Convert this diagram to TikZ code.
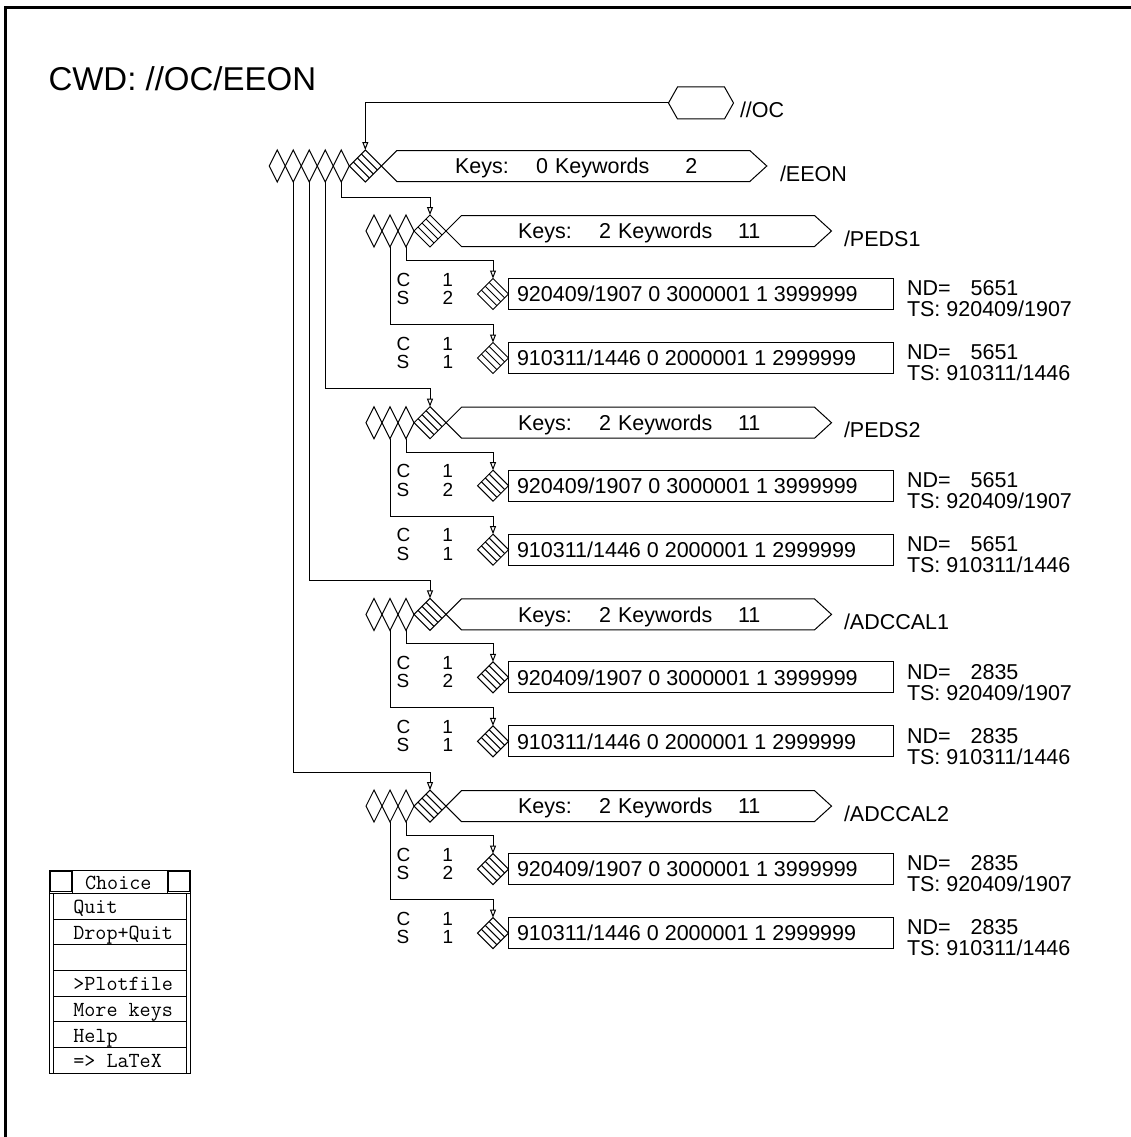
\documentclass[tikz,border=0pt]{standalone}
\usepackage{fontspec}
\setmainfont{Liberation Sans}
\usetikzlibrary{shapes.geometric,arrows.meta,calc}
\begin{document}
\begin{tikzpicture}[x=1pt,y=-1pt,line width=1pt,
  every node/.style={inner sep=0pt,outer sep=0pt},
  txt/.style={font=\fontsize{21.5}{24}\selectfont, anchor=base west},
  cs/.style={font=\fontsize{19}{18.5}\selectfont, anchor=west, align=left},
  big/.style={font=\fontsize{33}{38}\selectfont, anchor=base west},
  mono/.style={font=\ttfamily\fontsize{21.5}{24}\selectfont, anchor=base west},
  pdia/.style={diamond, draw, minimum width=16pt, minimum height=32pt},
  hdia/.style={diamond, draw, minimum width=#1, minimum height=#1,
    path picture={\foreach \t in {0.25,0.5,0.75}
      \draw ($(path picture bounding box.west)!\t!(path picture bounding box.north)$) --
            ($(path picture bounding box.south)!\t!(path picture bounding box.east)$);}},
  hdia/.default=32pt,
  conn/.style={-{Triangle[open,length=8pt,width=6pt]}},
  vrec/.style={draw, rectangle, minimum width=385pt, minimum height=31pt, anchor=west}]

\useasboundingbox (0,0) rectangle (1131,1137);
% frame
\draw[line width=3pt] (5.5,1137) -- (5.5,7.7) -- (1131,7.7);

% title
\node[big] (cwd) at (48.5,90.5) {CWD: //OC/EEON};

% //OC
\coordinate (oc) at (701,103);
\coordinate (ocw) at (668.5,103);
\draw (oc) +(-32.5,0) -- +(-23.5,-16) -- +(23.5,-16) -- +(32.5,0) -- +(23.5,16) -- +(-23.5,16) -- cycle;
\node[txt] (oclab) at (740,117.7) {//OC};

% /EEON
\foreach \i in {1,...,5} \node[pdia] (e\i) at ({261.3+16*\i},166) {};
\node[hdia] (eh) at (365.3,166) {};
\draw (eh.east) -- ++(15.5,-15.5) -- ++(353,0) -- ++(17,15.5) -- ++(-17,15.5) -- ++(-353,0) -- cycle;
\node[txt] (ek) at (455,173.7) {\makebox[93pt][l]{Keys:\hfill0}\hspace{7pt}Keywords\makebox[48pt][r]{2}};
\node[txt] (elab) at (780,181.2) {/EEON};
\draw[conn] (ocw) -| (eh.north);

% children
\foreach \k/\lab/\nd in {0/PEDS1/5651,1/PEDS2/5651,2/ADCCAL1/2835,3/ADCCAL2/2835}{
  \pgfmathsetmacro\Y{231+191.7*\k}
  \pgfmathtruncatemacro\en{5-\k}
  \pgfmathsetmacro\Ra{\Y+63}
  \pgfmathsetmacro\Rb{\Y+127}
  \node[pdia] (b\k-p1) at (374,\Y) {};
  \node[pdia] (b\k-p2) at (390,\Y) {};
  \node[pdia] (b\k-p3) at (406,\Y) {};
  \node[hdia] (b\k-h) at (430,\Y) {};
  \draw (b\k-h.east) -- ++(15.5,-15.5) -- ++(353,0) -- ++(17,15.5) -- ++(-17,15.5) -- ++(-353,0) -- cycle;
  \node[txt] (b\k-k) at (518,\Y+7.7) {\makebox[93pt][l]{Keys:\hfill2}\hspace{7pt}Keywords\makebox[48pt][r]{11}};
  \node[txt] (b\k-l) at (844,\Y+15.2) {/\lab};
  \draw[conn] (e\en.south) |- ([yshift=18pt]b\k-h.north) -- (b\k-h.north);
  % version 1
  \node[hdia=31pt] (b\k-va) at (493,\Ra) {};
  \node[vrec] (b\k-ra) at (b\k-va.east) {};
  \node[txt] (b\k-ta) at (517,\Ra+7.7) {920409/1907 0 3000001 1 3999999};
  \node[cs] (b\k-ca) at (396.5,\Ra-5.2) {\makebox[46pt][l]{C}1\\\makebox[46pt][l]{S}2};
  \node[txt] (b\k-na) at (907,\Ra+1.7) {ND=\hspace{20pt}\nd};
  \node[txt] (b\k-da) at (907,\Ra+22.7) {TS: 920409/1907};
  \draw[conn] (b\k-p3.south) |- ([yshift=18pt]b\k-va.north) -- (b\k-va.north);
  % version 2
  \node[hdia=31pt] (b\k-vb) at (493,\Rb) {};
  \node[vrec] (b\k-rb) at (b\k-vb.east) {};
  \node[txt] (b\k-tb) at (517,\Rb+7.7) {910311/1446 0 2000001 1 2999999};
  \node[cs] (b\k-cb) at (396.5,\Rb-5.2) {\makebox[46pt][l]{C}1\\\makebox[46pt][l]{S}1};
  \node[txt] (b\k-nb) at (907,\Rb+1.7) {ND=\hspace{20pt}\nd};
  \node[txt] (b\k-db) at (907,\Rb+22.7) {TS: 910311/1446};
  \draw[conn] (b\k-p2.south) |- ([yshift=18pt]b\k-vb.north) -- (b\k-vb.north);
}

% menu
\draw (49.3,870) rectangle (190.7,893.3);
\draw (50.8,871.5) rectangle (71.5,891.8);
\draw (168.5,871.5) rectangle (189.2,891.8);
\draw (72.8,870) -- (72.8,893.3) (167,870) -- (167,893.3);
\node[mono, anchor=base] (mt) at (118.3,889) {Choice};
\foreach \x in {49.3,53.3,186.7,190.7} \draw (\x,893.3) -- (\x,1073.3);
\foreach \i in {1,...,6} \draw (53.3,{893.3+25.7*\i}) -- (186.7,{893.3+25.7*\i});
\draw (49.3,1073.3) -- (190.7,1073.3);
\foreach \i/\s in {0/Quit,1/Drop+Quit,3/>Plotfile,4/More keys,5/Help,6/=> LaTeX}
  \node[mono] (m\i) at (73.3,{893.3+25.7*(\i+1)-5.5}) {\s};
\end{tikzpicture}
\end{document}
